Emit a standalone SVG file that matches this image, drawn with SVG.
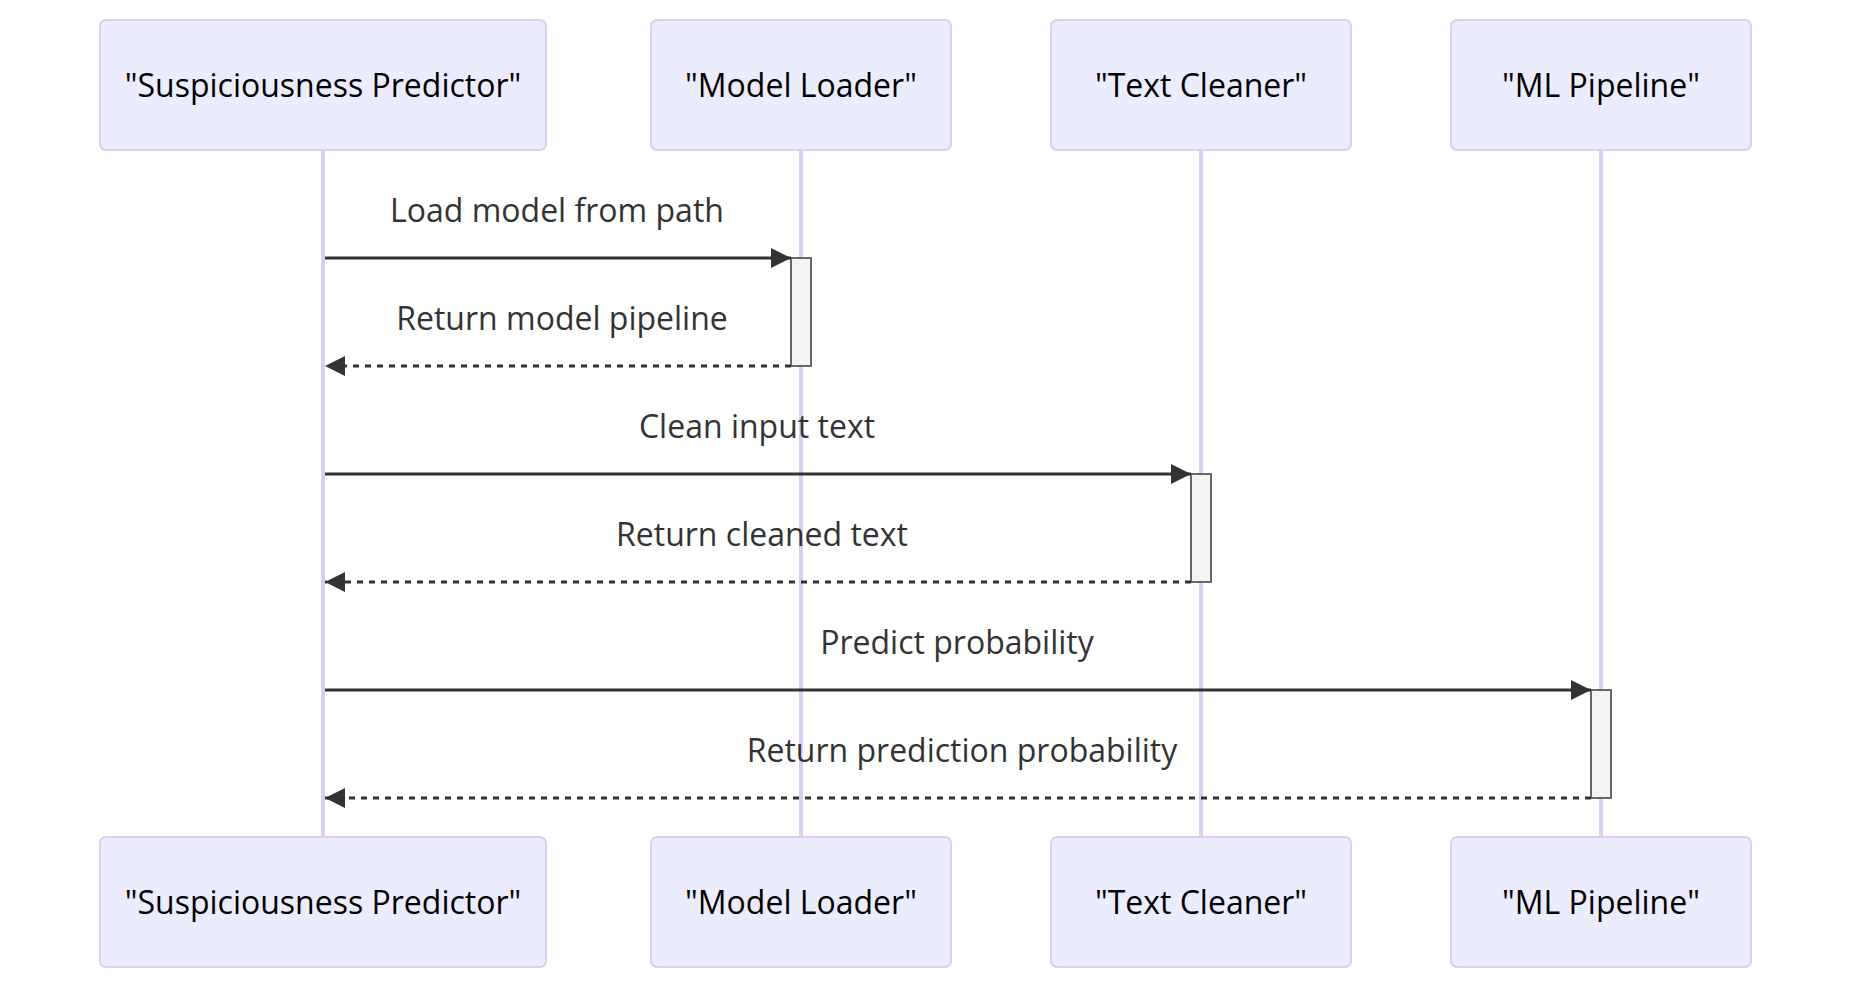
<svg xmlns="http://www.w3.org/2000/svg" width="1852" height="990" viewBox="0 0 1852 990">
<style>
.actor{fill:#ECECFF;stroke:#DACEF3;stroke-width:2}
.atext{font-family:"Open Sans","Noto Sans",sans-serif;font-size:32px;fill:#000;text-anchor:middle}
.life{stroke:#DACEF3;stroke-width:4}
.msg{stroke:#333;stroke-width:3;fill:none}
.dash{stroke-dasharray:6,6}
.mtext{font-family:"Open Sans","Noto Sans",sans-serif;font-size:32px;fill:#333;text-anchor:middle}
.act{fill:#F4F4F4;stroke:#666;stroke-width:2}
</style>
<defs>
<marker id="arrow" viewBox="0 0 10 10" refX="10" refY="5" markerWidth="20" markerHeight="20" markerUnits="userSpaceOnUse" orient="auto">
<path d="M0,0 L10,5 L0,10 z" fill="#333"/>
</marker>
</defs>
<rect width="1852" height="990" fill="#fff"/>
<g id="lifelines">
<line class="life" x1="323" y1="150" x2="323" y2="837"/>
<line class="life" x1="801" y1="150" x2="801" y2="837"/>
<line class="life" x1="1201" y1="150" x2="1201" y2="837"/>
<line class="life" x1="1601" y1="150" x2="1601" y2="837"/>
</g>
<g id="predictor">
<rect class="actor" x="100" y="20" width="446" height="130" rx="6"/>
<text class="atext" x="323" y="96.5">"Suspiciousness Predictor"</text>
<rect class="actor" x="100" y="837" width="446" height="130" rx="6"/>
<text class="atext" x="323" y="913.5">"Suspiciousness Predictor"</text>
</g>
<g id="loader">
<rect class="actor" x="651" y="20" width="300" height="130" rx="6"/>
<text class="atext" x="801" y="96.5">"Model Loader"</text>
<rect class="actor" x="651" y="837" width="300" height="130" rx="6"/>
<text class="atext" x="801" y="913.5">"Model Loader"</text>
</g>
<g id="cleaner">
<rect class="actor" x="1051" y="20" width="300" height="130" rx="6"/>
<text class="atext" x="1201" y="96.5">"Text Cleaner"</text>
<rect class="actor" x="1051" y="837" width="300" height="130" rx="6"/>
<text class="atext" x="1201" y="913.5">"Text Cleaner"</text>
</g>
<g id="pipeline">
<rect class="actor" x="1451" y="20" width="300" height="130" rx="6"/>
<text class="atext" x="1601" y="96.5">"ML Pipeline"</text>
<rect class="actor" x="1451" y="837" width="300" height="130" rx="6"/>
<text class="atext" x="1601" y="913.5">"ML Pipeline"</text>
</g>
<g id="activations">
<rect class="act" x="791" y="258" width="20" height="108"/>
<rect class="act" x="1191" y="474" width="20" height="108"/>
<rect class="act" x="1591" y="690" width="20" height="108"/>
</g>
<g id="connectors">
<line class="msg" x1="325" y1="258" x2="791" y2="258" marker-end="url(#arrow)"/>
<text class="mtext" x="557" y="222">Load model from path</text>
<line class="msg dash" x1="791" y1="366" x2="325" y2="366" marker-end="url(#arrow)"/>
<text class="mtext" x="562" y="330">Return model pipeline</text>
<line class="msg" x1="325" y1="474" x2="1191" y2="474" marker-end="url(#arrow)"/>
<text class="mtext" x="757" y="438">Clean input text</text>
<line class="msg dash" x1="1191" y1="582" x2="325" y2="582" marker-end="url(#arrow)"/>
<text class="mtext" x="762" y="546">Return cleaned text</text>
<line class="msg" x1="325" y1="690" x2="1591" y2="690" marker-end="url(#arrow)"/>
<text class="mtext" x="957" y="654">Predict probability</text>
<line class="msg dash" x1="1591" y1="798" x2="325" y2="798" marker-end="url(#arrow)"/>
<text class="mtext" x="962" y="762">Return prediction probability</text>
</g>
</svg>
